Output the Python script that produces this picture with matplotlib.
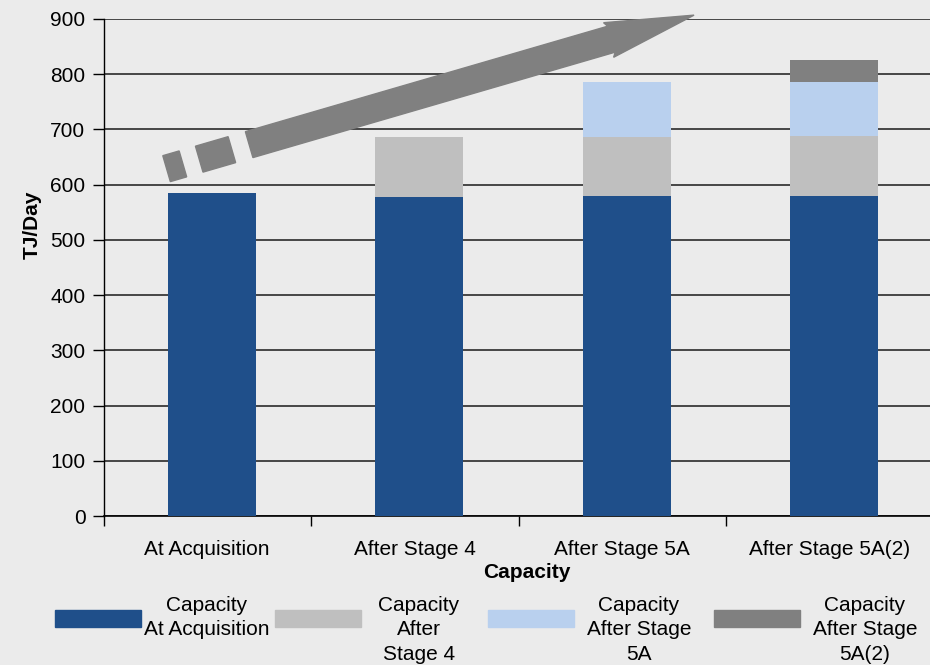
import numpy as np
import matplotlib
matplotlib.use("Agg")
import matplotlib.pyplot as plt
from matplotlib.patches import Polygon, Rectangle
from matplotlib.transforms import IdentityTransform

plt.rcParams['font.family'] = ['Liberation Sans', 'DejaVu Sans']

categories = ["At Acquisition", "After Stage 4", "After Stage 5A", "After Stage 5A(2)"]
at_acquisition = [585, 578, 580, 580]
after_stage4 = [0, 108, 106, 108]
after_stage5a = [0, 0, 100, 98]
after_stage5a2 = [0, 0, 0, 40]
series_labels = ["Capacity\nAt Acquisition", "Capacity\nAfter\nStage 4",
                 "Capacity\nAfter Stage\n5A", "Capacity\nAfter Stage\n5A(2)"]
colors = ["#1f4f8a", "#bfbfbf", "#b9d0ee", "#808080"]

# growth arrow, start and tip in data units
arrow_start = (-0.196, 629)
arrow_tip = (2.346, 907)

W, H = 930, 665
bg = "#ebebeb"
fig = plt.figure(figsize=(W / 100, H / 100), dpi=100, facecolor=bg)
ax = fig.add_axes([103.5 / W, (H - 516) / H, 830 / W, 497 / H])
ax.set_facecolor(bg)

x = np.arange(len(categories))
bottom = np.zeros(len(categories))
for vals, c in zip([at_acquisition, after_stage4, after_stage5a, after_stage5a2], colors):
    ax.bar(x + 0.022, vals, width=0.425, bottom=bottom, color=c, zorder=3)
    bottom += np.array(vals)

ax.set_xlim(-0.5, 3.5)
ax.set_ylim(0, 900)
ax.set_yticks(np.arange(0, 901, 100))
ax.yaxis.grid(True, color="#2a2a2a", linewidth=1.2, zorder=0)
ax.set_axisbelow(True)

ax.set_xticks(x)
ax.set_xticklabels(categories, fontsize=15)
ax.set_xticks(np.arange(-0.5, 3.6, 1), minor=True)
ax.tick_params(axis="x", which="major", length=0, pad=17)
ax.tick_params(axis="x", which="minor", length=7, width=1, direction="out")
ax.tick_params(axis="y", length=8, width=1, pad=5, labelsize=15)

for s in ["top", "right"]:
    ax.spines[s].set_visible(False)
ax.spines["left"].set_linewidth(1)
ax.spines["bottom"].set_linewidth(1.2)

ax.set_xlabel("Capacity", fontsize=15, fontweight="bold")
ax.xaxis.set_label_coords((527 - 103.5) / 830, (516 - 578) / 497)
ax.xaxis.label.set_va("baseline")
ax.set_ylabel("TJ/Day", fontsize=15, fontweight="bold")
ax.yaxis.set_label_coords((32 - 103.5) / 830, (516 - 225) / 497)
ax.yaxis.label.set_va("center")

# arrow: two dashes then a solid shaft with head, built in pixel space
p0 = ax.transData.transform(arrow_start)
p1 = ax.transData.transform(arrow_tip)
d = p1 - p0
L = np.hypot(*d)
u = d / L
n = np.array([-u[1], u[0]])
hw = 13.5
arrow_color = "#808080"


def seg(a, b):
    return [p0 + u * a + n * hw, p0 + u * b + n * hw, p0 + u * b - n * hw, p0 + u * a - n * hw]


for a, b in [(0, 17), (34, 68)]:
    fig.add_artist(Polygon(seg(a, b), closed=True, color=arrow_color,
                           transform=IdentityTransform(), zorder=5))

head_len, head_hw = 89, 18
hb = L - head_len
shaft = [p0 + u * 86 + n * hw, p0 + u * (hb + 3) + n * hw, p0 + u * hb + n * head_hw,
         p1, p0 + u * hb - n * head_hw, p0 + u * (hb + 3) - n * hw, p0 + u * 86 - n * hw]
fig.add_artist(Polygon(shaft, closed=True, color=arrow_color,
                       transform=IdentityTransform(), zorder=5))

# legend row along the bottom
patch_x = [55, 275, 488, 714]
text_x = [207, 419, 639, 865]
for px, tx, c, lab in zip(patch_x, text_x, colors, series_labels):
    fig.add_artist(Rectangle((px / W, (H - 627) / H), 86 / W, 17 / H,
                             color=c, transform=fig.transFigure))
    fig.text(tx / W, (H - 596) / H, lab, ha="center", va="top",
             multialignment="center", fontsize=15, linespacing=1.35)

fig.savefig("out.png", dpi=100, facecolor=bg)
